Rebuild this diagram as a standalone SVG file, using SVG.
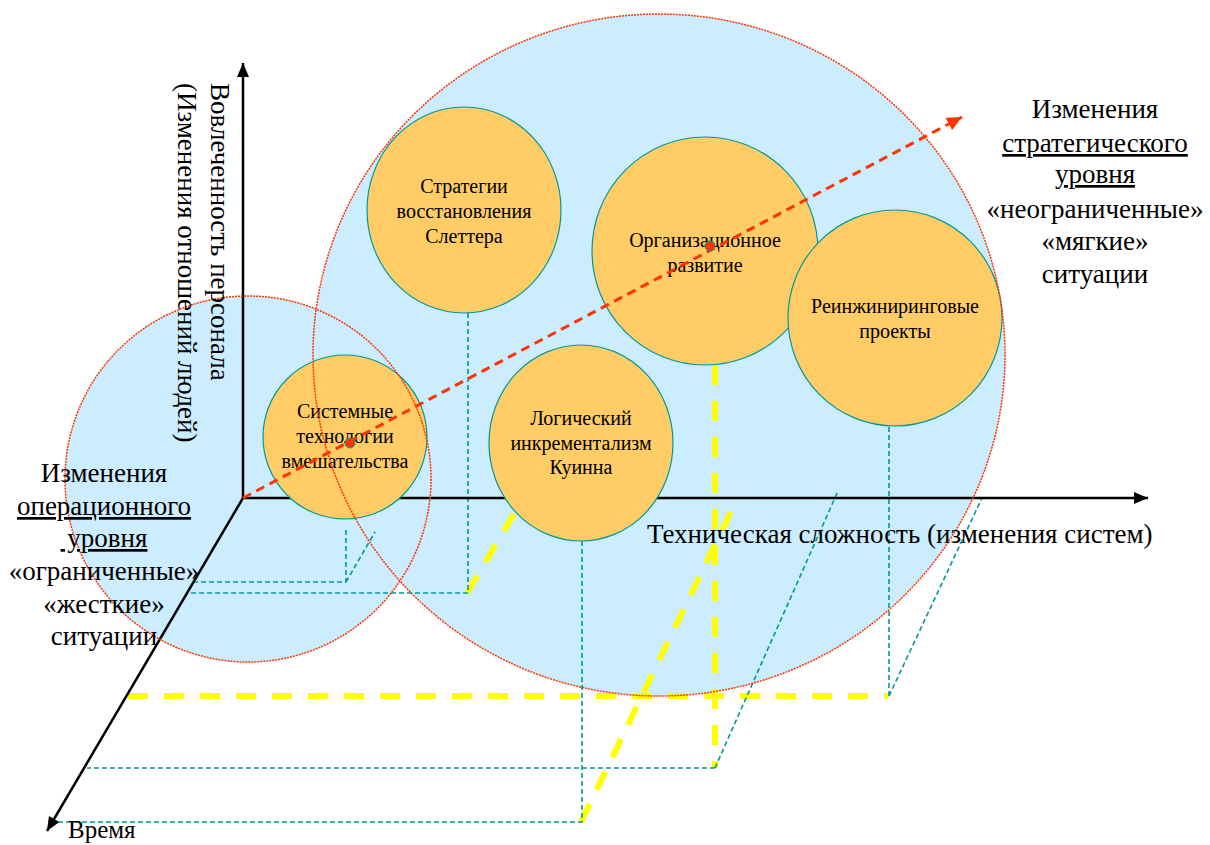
<svg xmlns="http://www.w3.org/2000/svg" width="1210" height="845" viewBox="0 0 1210 845">
<defs>
<marker id="axisHead" markerUnits="userSpaceOnUse" markerWidth="16" markerHeight="12" refX="14" refY="6" orient="auto">
<path d="M0,0 L14,6 L0,12 z" fill="#000"/>
</marker>
<marker id="redHead" markerUnits="userSpaceOnUse" markerWidth="16" markerHeight="14" refX="15" refY="7" orient="auto">
<path d="M0,0 L15,7 L0,14 z" fill="#FF3300"/>
</marker>
<style>
.zone{fill:#CCECFF;stroke:none}
.rim{fill:none;stroke:#FF3300;stroke-width:1.5;stroke-dasharray:2 1}
.node ellipse{fill:#FFCC66;stroke:#009999;stroke-width:1.2}
.proj{fill:none;stroke:#009999;stroke-width:1.6;stroke-dasharray:5 3}
.trace{fill:none;stroke:#FFFF00;stroke-width:6;stroke-dasharray:20 16}
.axis{stroke:#000;stroke-width:2.5;fill:none}
.trend{stroke:#FF3300;stroke-width:3;stroke-dasharray:9 6;fill:none}
.dot{fill:#FF3300;stroke:#009999;stroke-width:1}
text{font-family:"Liberation Serif","Times New Roman",serif;fill:#000}
.n{font-size:20px;text-anchor:middle}
.big{font-size:27px}
.mid{text-anchor:middle}
.u{text-decoration:underline}
</style>
</defs>

<!-- situation zones -->
<g id="zones">
<circle class="zone" cx="248" cy="479" r="183"/>
<ellipse class="zone" cx="659" cy="355" rx="346" ry="341"/>
</g>

<!-- projections and connectors -->
<g id="connectors">
<path class="trace" d="M128,696 H888"/>
<path class="trace" d="M715,365 V768"/>
<path class="trace" d="M467,593 L530,487"/>
<path class="trace" d="M581,822 L738,497"/>
<path class="proj" d="M468,313 V593 H188"/>
<path class="proj" d="M346,530 V582 H193 M346,582 L375,532"/>
<path class="proj" d="M582,541 V822 H50"/>
<path class="proj" d="M715,768 H87 M715,768 L838,491"/>
<path class="proj" d="M889,427 V696 M889,696 L982,498"/>
<line class="axis" x1="243" y1="498" x2="243" y2="63" marker-end="url(#axisHead)"/>
<line class="axis" x1="243" y1="498" x2="1148" y2="498" marker-end="url(#axisHead)"/>
<line class="axis" x1="243" y1="498" x2="47" y2="831" marker-end="url(#axisHead)"/>
</g>

<g id="node-slatter" class="node">
<ellipse cx="464" cy="210" rx="97" ry="103"/>
<text class="n" x="464" y="193">Стратегии</text>
<text class="n" x="464" y="218">восстановления</text>
<text class="n" x="464" y="243">Слеттера</text>
</g>
<g id="node-od" class="node">
<ellipse cx="705" cy="251" rx="113" ry="114"/>
<text class="n" x="705" y="247">Организационное</text>
<text class="n" x="705" y="272">развитие</text>
</g>
<g id="node-reeng" class="node">
<ellipse cx="895" cy="318" rx="107" ry="108"/>
<text class="n" x="895" y="313">Реинжиниринговые</text>
<text class="n" x="895" y="338">проекты</text>
</g>
<g id="node-quinn" class="node">
<ellipse cx="581" cy="443" rx="92" ry="98"/>
<text class="n" x="581" y="425">Логический</text>
<text class="n" x="581" y="450">инкрементализм</text>
<text class="n" x="581" y="474">Куинна</text>
</g>
<g id="node-systems" class="node">
<ellipse cx="345" cy="437" rx="82" ry="82"/>
<text class="n" x="345" y="418">Системные</text>
<text class="n" x="345" y="443">технологии</text>
<text class="n" x="345" y="468">вмешательства</text>
</g>

<!-- zone outlines -->
<g id="zone-rims">
<circle class="rim" cx="248" cy="479" r="183"/>
<ellipse class="rim" cx="659" cy="355" rx="346" ry="341"/>
</g>

<!-- trend from operational to strategic change -->
<g id="trend">
<line class="trend" x1="243" y1="498" x2="962" y2="117" marker-end="url(#redHead)"/>
<circle class="dot" cx="350" cy="443" r="5"/>
<circle class="dot" cx="710" cy="246" r="5"/>
</g>

<g id="labels">
<g transform="translate(211,83) rotate(90)">
<text class="big" x="0" y="0">Вовлеченность персонала</text>
<text class="big" x="0" y="33">(Изменения отношений людей)</text>
</g>
<text class="big" x="647" y="543">Техническая сложность (изменения систем)</text>
<text class="big" x="68" y="838" style="font-size:25px">Время</text>

<text class="big mid" x="104" y="482">Изменения</text>
<text class="big mid u" x="104" y="515">операционного</text>
<text class="big mid u" x="104" y="547" xml:space="preserve"> уровня</text>
<text class="big mid" x="104" y="580">«ограниченные»</text>
<text class="big mid" x="104" y="613">«жесткие»</text>
<text class="big mid" x="104" y="645">ситуации</text>

<text class="big mid" x="1095" y="118">Изменения</text>
<text class="big mid u" x="1095" y="152">стратегического</text>
<text class="big mid u" x="1095" y="183">уровня</text>
<text class="big mid" x="1095" y="218">«неограниченные»</text>
<text class="big mid" x="1095" y="250">«мягкие»</text>
<text class="big mid" x="1095" y="283">ситуации</text>
</g>
</svg>
